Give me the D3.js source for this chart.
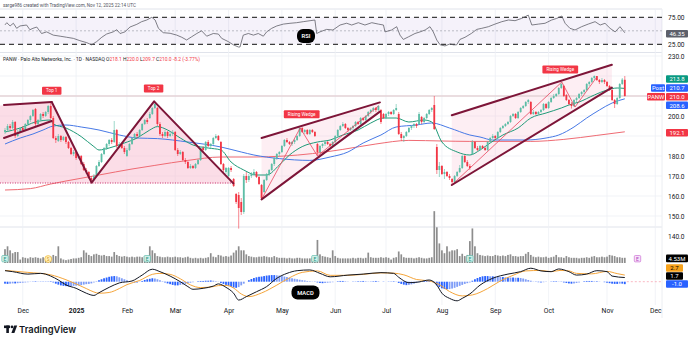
<!DOCTYPE html>
<html>
<head>
<meta charset="utf-8">
<script src="https://cdn.jsdelivr.net/npm/d3@7"></script>
<style>
  body { margin: 0; background: #fff; }
  svg { display: block; font-family: Roboto, "Noto Sans", sans-serif; }
</style>
</head>
<body>
<svg id="chart" width="695" height="341"></svg>
<script>
// ---- data ----
// daily candles [open, high, low, close], Nov 20 2024 .. Nov 12 2025
const candles = [
  [192,194,191,193],[193,196,192,195],[195,196,193,194],[194,198,193.5,197],[197,197.5,189,190],
  [190,193,189.5,192],[192,194.5,191.5,194],[194,195,192,193],[193,196.5,192.5,196],[196,198.5,195,198],
  [198,200.5,197,200],[200,203.5,199.5,203],[203.5,204,195,196],[196,198.5,195,198],[198,201.5,197.5,201],
  [201,202,199,200],[200,202.5,199.5,202],[202,205.5,201,205],[205,207,198.5,199],[199,200,188.5,189],
  [189,190,186.5,188],[187.5,191,187,190],[190,190.5,187,188],[188,190,187.5,189.5],[189.5,190,186,187],
  [187,187.5,183.5,184],[184,184.5,180.5,181],[181,183,180,182],[182,182.5,178,179],[179,181,178.5,180],
  [180,180.5,175.5,176],[176,177,172.5,173],[173,174,171,172],[172,172.5,168.5,169],[169,170,166.7,168],
  [168,171,167.5,170],[170,175.5,169.5,175],[175,178,174.5,177],[177,181.5,176.5,181],[181,184.5,180.5,184],
  [184,186.5,183,186],[186,188.5,185,188],[188,189,186,187],[187,197.5,186.5,193],[193,193.5,184,185],
  [185,187,184,186],[186,186.5,183.5,184],[184,185,181,182],[180,184,179.5,183],[183,186.5,182.5,186],
  [186,189.5,185.5,189],[189,191.5,188.5,191],[191,192,189,190],[190,193.5,189.5,193],[193,196.5,192.5,196],
  [196,198.5,195.5,198],[198,199,196,197],[199,202,198.5,201],[201,204.5,200.5,204],[204,207.3,203.5,206],
  [204,204.5,195,196],[196,197,190,191],[191,192,189,190],[190,193,189.5,192],[192,192.5,189,190],
  [190,192,189.5,191],[191,193,190,192],[192,192.5,182.5,183],[183,184,180,181],[181,183,180.5,182],
  [182,182.5,177.5,178],[178,179,176,177],[177,177.5,173.5,174],[174,176,173.5,175],[175,175.5,173.5,174],
  [174,176.5,173.5,176],[176,178.5,175.5,178],[178,184.5,177.5,184],[184,185,182,183],[183,187.5,182.5,187],
  [187,188,184.5,185],[185,186.5,184,186],[186,189.5,185.5,189],[189,191,188.5,190],[190,190.5,187.5,188],
  [187,187.5,175.5,176],[176,176.5,172,173],[172,174.5,171,174],[170,174.5,169.5,174],[174,175,172,173],
  [168.5,169,164.5,165],[161,161.5,156,157],[160.5,162,143.7,154],[157,159,150.5,152],[152,171,151,170],
  [170,172,166.5,168],[168,171,167,170],[170,172,169,171],[171,173.5,170,172],[172,172.5,169,169.5],
  [169.5,170,165.5,166],[165.5,166,158.3,159],[162,168.5,161.5,168],[168,171.5,167.5,171],[171,173.5,170,173],
  [173,176.5,172.5,176],[176,179.5,175,179],[179,181.5,178,181],[181,182.5,180,182],[182,185.5,181.5,185],
  [185,188.5,184.5,188],[188,189,186.5,187],[187,187.5,185.5,186],[186,187.5,185,187],[187,188.5,186,188],
  [188,190.5,187.5,190],[190,194.5,189.5,194],[194,194.5,191.5,192],[192,193.5,191,193],[193,193.5,190.5,191],
  [191,193.5,190.5,193],[193,193.5,191.5,192],[192,192.5,189.5,190],[186,186.5,180,182],[182,185.5,181.5,185],
  [185,186.5,184,186],[186,187.5,185,187],[187,187.5,185.5,186],[186,186.5,184.5,185],[185,187.5,184.5,187],
  [187,190.5,186.5,190],[190,193.5,189.5,193],[193,195.5,192.5,195],[195,197,194.5,196],[196,196.5,193.5,194],
  [194,194.5,192,193],[193,194.5,192.5,194],[194,195.5,193,195],[195,197.5,194.5,197],[197,197.5,195.5,196],
  [196,199.5,195.5,199],[199,199.5,197.5,198],[198,200.5,197.5,200],[200,202.5,199.5,202],[202,203.5,201,203],
  [203,204.5,202,204],[204,204.5,202,203],[203,205.5,202.5,205],[203,203.5,196,197],[201,201.5,198.5,199],
  [199,201.5,198.5,201],[201,202.5,200,202],[202,202.5,200.5,201],[201,203.5,200.5,203],[203,206,202.5,204],
  [201,202,190.5,191],[191,192,187.5,189],[189,190.5,187,190],[190,192.5,189.5,192],[192,194.5,191.5,194],
  [194,195.5,193,195],[195,196.5,194,196],[196,196.5,194,195],[196,202,195.5,201],[199.5,200,196,197],
  [197,199.5,196.5,199],[199,201.5,198.5,201],[201,203.5,200.5,203],[203,204.5,202,204],[205.5,210,193,193.5],
  [184.5,186,171,173],[173,177,169.5,175],[175,175.5,170.5,171],[171,173.5,168.5,172],[172,172.5,169.5,170],
  [170,171,168,169],[168.5,169,165.7,167],[167,170.5,166.5,170],[170,172.5,169.5,172],[172,175.5,171.5,174],
  [174,180.5,173.5,180],[180,180.5,176.5,177],[177,178,174.5,175],[175,176,173,174],[181,188,180.5,187],
  [187,187.5,183.5,184],[184,185,182.5,183],[183,185.5,182.5,185],[185,185.5,183.5,184],[184,184.5,182.5,183],
  [183,187.5,182.5,187],[187,189.5,186.5,189],[189,191,188.5,190],[190,190.5,188,189],[189,192.5,188.5,192],
  [192,194.5,191.5,194],[194,195.5,193.5,195],[195,196.5,194.5,196],[196,197.5,195.5,197],[197,200.5,196.5,200],
  [200,201.5,199.5,201],[201,201.5,198.5,199],[199,202.5,198.5,202],[202,204.5,201.5,204],[204,205.5,203.5,205],
  [205,207.5,204.5,207],[207,208.5,206,208],[207,207.5,200.5,201],[201,203,200.5,202],[202,202.5,200.5,201],
  [201,202.5,200.5,202],[202,203.5,201.5,203],[203,206.5,202.5,206],[206,206.5,203.5,204],[204,207.5,203.5,207],
  [207,209.5,206.5,209],[209,211,208.5,210],[210,211.5,209.5,211],[211,214.5,210.5,214],[214,217,213.5,216],
  [215,215.5,209.5,210],[210.5,211,207.5,208],[208,208.5,205.5,206],[206,207,203.7,205],[205,208.5,204.5,208],
  [208,209.5,207,209],[209,211.5,208.5,211],[211,212.5,210,212],[212,213.5,211,213],[213,216.5,212.5,216],
  [216,217.5,215,217],[217,219.5,216.5,219],[219,220.3,218,220],[220,220,217.5,218],[218,218.5,216,217],
  [217,219,216.5,218],[218,218.5,216,217],[217,217.5,214.5,215],[215,215.5,212.5,213],[213,213.5,207.5,208],
  [208,208.5,204,206],[206,209.5,205.5,209],[209,216.5,208.5,216],[216,219,215.5,218.2],[218.1,220,209.7,210]
];

// volume, millions of shares
const volumes = [
  12,14.5,11,8.5,9.5,9.5,3,
  5,4.5,4,5,4.5,5,4.5,4,5,4,5,5.5,7,6,14.5,4,3,2.5,3,3.5,4,
  4,4.5,5,11,9,7,6,7.5,8,7,6.5,7,6,6,5.5,9.5,7,6,5.5,6,
  5.5,5,5.5,5,5.5,5.5,5,6,6,14.5,11,8.5,6,5.5,5,5,5.5,5,5,
  5.5,5,5,4.5,5,5.5,4.5,4,4.5,4,4.5,4,4.5,5,8.5,5.5,5,7,6.5,5.5,6,
  5.5,6.5,9,11,14.5,11,11,7.5,6,5.5,5,5,5.5,5.5,6,5.5,5,5,6,5,4.5,
  4.5,4.5,4,4.5,4,4,4.5,4.5,4,4,4,4,4.5,5.5,20,7.5,6,5.5,5,4.5,11,
  6,4.5,4,4,4,4,4,4.5,4,4.5,4.5,4,4.5,9,5,4.5,4.5,4.5,5,4.5,
  5,4.5,3,4.5,5,10,7.5,5,4.5,4.5,4.5,4,4.5,5,4.5,4,4,4.5,5,45,31,17,
  11,8.5,14.5,10,11,11,12,6,8,6,7,19,30,14.5,
  8.5,7,6.5,6,6.5,6,6,7,6.5,6,6.5,6,7,7.5,6,6,5.5,6,6,8,9.5,7,5.5,5,5.5,5,5,5.5,
  4.5,5,5.5,7,5,5,4.5,6,5,4.5,4.5,4.5,4,4.5,4.5,5,4.5,5.5,6,5,5,5.5,5,
  5.5,7,6.5,6,5,5,4.5,4.53
];

// MACD histogram per bar
const macdHist = [
  -0.8,-0.9,-0.8,-0.7,-0.7,-0.6,-0.5,-0.4,-0.3,-0.2,
  -0.1,0.1,0.2,0.1,0.1,-0.1,-0.1,0.1,0.2,-0.3,
  -0.8,-1.2,-1.5,-1.7,-1.8,-1.9,-1.8,-1.7,-1.6,-1.5,
  -1.4,-1.2,-1.0,-0.9,-0.7,-0.3,0.2,0.6,1.0,1.4,
  1.7,2.0,2.2,2.3,2.2,1.8,1.4,1.0,0.6,0.2,
  -0.1,-0.3,-0.3,-0.1,0.3,0.7,1.0,1.2,1.4,1.3,
  1.0,0.6,0.2,-0.3,-0.7,-1.0,-1.3,-1.5,-1.5,-1.3,
  -1.1,-0.9,-0.6,-0.4,-0.2,0.0,0.2,0.3,0.3,0.4,
  0.4,0.5,0.4,0.2,-0.1,-0.5,-0.9,-1.3,-1.7,-2.1,
  -2.4,-2.5,-2.2,-1.5,-0.8,0.0,0.6,1.1,1.5,1.8,
  2.0,2.1,2.3,2.5,2.6,2.7,2.7,2.6,2.5,2.3,
  2.1,1.9,1.6,1.4,1.2,1.0,0.8,0.6,0.5,0.3,
  0.2,0.1,-0.1,-0.3,-0.5,-0.6,-0.5,-0.4,-0.3,-0.2,
  0.0,0.2,0.3,0.3,0.2,0.1,0.0,-0.1,0.1,0.2,
  0.2,0.3,0.2,0.1,0.1,0.2,0.3,0.2,0.0,-0.1,
  0.0,0.1,0.1,0.2,0.1,-0.5,-0.9,-1.2,-1.4,-1.3,
  -1.1,-0.8,-0.5,-0.2,0.1,0.3,0.4,0.4,0.3,-0.4,
  -1.5,-2.2,-2.7,-3.0,-3.1,-3.0,-2.8,-2.5,-2.1,-1.7,
  -1.3,-0.9,-0.6,-0.3,0.4,1.0,1.5,1.9,2.2,2.3,
  2.3,2.2,2.2,2.1,2.0,1.9,1.9,1.8,1.8,1.7,
  1.7,1.6,1.6,1.5,1.3,1.0,0.7,0.4,0.1,-0.1,
  -0.2,-0.3,-0.2,-0.1,0.0,0.1,0.2,0.2,0.1,-0.1,
  -0.3,-0.5,-0.7,-0.8,-0.7,-0.5,-0.3,0.0,0.2,0.3,
  0.3,0.3,0.2,0.2,0.1,0.0,-0.2,-0.4,-0.6,-0.8,
  -0.9,-0.9,-0.8,-0.8,-1.0
];

// moving averages, [bar, value]
const ma20 = [[0,192],[6,194],[12,197],[18,198],[19,196],[24,194],[30,189.7],[35,184.7],[37,183],[41,184],
  [47,186.5],[52,189],[57,193],[60,194.7],[64,193],[69,189],[74,185.5],[80,184],[85,183],[89,177],[94,173],
  [99,170.5],[103,170.5],[108,175.5],[112,180.5],[117,184.7],[123,187],[128,188],[133,190.5],[139,193],
  [144,196.5],[149,199],[154,199],[159,197],[165,198],[168,197],[172,187],[178,182],[183,180.5],[187,183],
  [191,186.5],[196,190.5],[202,194],[207,199],[213,201.5],[219,204],[222,205.5],[226,207],[232,210.5],
  [237,213],[241,214],[244,213.8]];
const ma50 = [[0,186],[6,189],[11,191],[15,193],[19,195],[24,195.5],[30,194.5],[37,193],[45,190.5],[52,189],
  [60,188.7],[72,187],[85,184.5],[93,182],[98,180.5],[108,178.7],[120,177.8],[128,179.5],[135,182],
  [141,186.5],[148,190.5],[154,194.5],[162,195.5],[168,196.5],[175,194],[183,190.5],[187,189.5],[192,188],
  [205,188],[213,189],[218,190.5],[224,194.5],[229,199],[234,203],[239,206.5],[244,208.6]];
const ma200 = [[0,163],[10,163.7],[18,166],[24,167.5],[37,170.5],[50,173.5],[59,175.3],[72,177.8],[85,179.5],
  [98,179.5],[121,181.2],[133,183.3],[146,186],[159,187.8],[172,187.5],[183,187.3],[207,187.3],[220,188.3],
  [233,190.3],[244,192.1]];

// RSI(14), [bar, value]
const rsi = [[0,61],[0.7,65],[2,59],[3.3,64],[4.6,54.6],[5.9,59],[8.5,60.7],[9.8,52],[11,54.6],[12.5,57],
  [14.4,45],[16.4,48],[19,42],[21.7,40],[24.3,38],[26.9,36],[29.5,31.7],[32.2,28],[34.1,24],[36.1,30],
  [38.1,38],[40,44],[42.6,48],[44,52],[45.3,45],[47.2,48],[49.2,57],[51.9,62],[53.8,66.9],[55.8,70],
  [57.8,75],[59.1,70],[60.4,54.6],[62.3,46.5],[65,45.4],[67.6,42],[69.6,38],[71.5,33],[73.5,39],[75.5,45],
  [77.4,50],[79.4,40],[82,45],[84,44],[85.3,36],[87.9,30],[89.9,24],[91.9,20],[92.5,20],[93.8,42],
  [95.8,45],[97.8,42],[99.7,45],[101.7,40],[103,48],[105,54.6],[107,59],[109.6,62.4],[112.2,63.9],
  [114.8,65],[117.4,66.9],[120.1,68.7],[122,70],[122.7,45],[124,48],[126.6,52.6],[129.1,51.5],[131.9,60.7],
  [134.5,64],[136.5,60.7],[139.1,65],[141.7,60.7],[144.4,65],[147,62.4],[149,60.7],[149.6,48],[152.2,51.5],
  [154.2,57.6],[155.5,42],[156.8,34],[158.8,38.7],[161.4,45],[163.4,48],[165.4,51.5],[167.3,57.6],
  [168.6,48],[170,32.8],[171.3,24],[173.2,22],[175.2,25.7],[176.5,24],[177.8,24],[179.1,34],[181.1,38],
  [183.7,45.4],[185.7,52.6],[187.7,54.6],[190.3,57.6],[192.9,62.4],[195.6,66.9],[198.2,70],[200.8,68.7],
  [203.4,73],[206,79],[207.4,60.7],[210,62.4],[212.6,63.9],[215.2,70],[217.2,73],[219.2,77.4],[220.5,63.9],
  [222.4,54.6],[224.4,51.5],[227,57.6],[229.6,62.4],[232.3,66.9],[234.3,60.7],[236.2,63.9],[238.2,54.6],
  [240.2,48],[242.1,57.6],[244,46.35]];

// MACD and signal lines, [bar, value]
const macdLine = [[0,4.5],[3,4.1],[9,3.1],[14,3.4],[18,2.3],[21,0.7],[24,-1.3],[28,-2.7],[32,-4.7],[35,-5.6],
  [37,-4.5],[41,-2.3],[45,-0.5],[50,0.3],[54,2.7],[58,5.1],[61,4.1],[65,2.3],[69,0],[72,-2],[74,-3.1],
  [78,-2.7],[82,-1.8],[84,-0.9],[87,-2.3],[90,-4.7],[92,-7.5],[95,-6.1],[99,-4.1],[103,-2],[107,1.4],
  [111,3.4],[115,4.5],[120,4.8],[124,3.4],[128,2],[135,2.7],[141,3.1],[148,3.7],[153,3.4],[155,1.8],
  [159,-0.4],[163,-0.1],[167,0.7],[170,-1.4],[172,-4.7],[175,-6.8],[178,-7.8],[180,-6.8],[183,-5],
  [187,-1.4],[192,1.4],[198,3.1],[203,4.1],[207,5.5],[211,4.4],[215,4.1],[218,5.2],[222,4.1],[225,2.7],
  [229,3.1],[233,4.5],[237,4.1],[239,2.3],[244,1.7]];
const signalLine = [[0,4.6],[9,3.8],[18,2.8],[24,0.8],[28,-0.9],[32,-2.8],[35,-4.2],[37,-4.7],[41,-4.4],
  [45,-2.8],[48,-1.2],[53,0.5],[58,3.0],[61,3.4],[65,3.0],[69,1.2],[73,-1.3],[77,-2.4],[82,-2.0],[84,-1.6],
  [87,-1.5],[90,-2.6],[93,-5.0],[96,-6.1],[101,-4.6],[107,-1.4],[112,1.6],[117,3.8],[123,4.4],[128,2.6],
  [135,2.6],[141,3.0],[148,3.6],[153,3.5],[157,2.8],[162,0.9],[167,0.3],[171,-1.2],[175,-4.0],[180,-5.8],
  [184,-5.4],[190,-2.8],[195,0.3],[200,2.6],[205,4.4],[211,4.6],[215,4.1],[218.5,4.6],[222,4.4],[225,3.4],
  [231,3.2],[237,4.2],[241,3.3],[244,2.7]];

// chart drawings, [bar, price]
const channelUpper = [[-0.4,205.5],[18.4,207]];
const channelLower = [[-0.4,189],[18.4,197.5]];
const doubleTop = [[18.4,207],[34.1,166.7],[58.7,207.3],[89.9,166.3]];
const neckline = [[-2,166.5],[89.9,166.5]];
const wedge1Upper = [[101,189],[147.6,206.8]];
const wedge1Lower = [[101,158.3],[147.6,202.2]];
const wedge1Swings = [[101,158.3],[116.2,194],[123,180],[147,205]];
const wedge2Upper = [[175.9,200.4],[238.9,225.6]];
const wedge2Lower = [[175.9,165.5],[238.9,214.2]];
const wedge2Swings = [[175.9,165.5],[219.2,217],[224.4,204.5],[233,219.5]];
const noteLabels = [
  {text: 'Top 1', at: [18.4, 212.6]},
  {text: 'Top 2', at: [58.5, 213.8]},
  {text: 'Rising Wedge', at: [116.8, 200.9]},
  {text: 'Rising Wedge', at: [218.6, 223.2]}
];
const earningsBars = [0, 56, 122, 183];
const nextEarningsBar = 249;
const splitBar = 17;

const priceTicks = [230, 200, 180, 170, 160, 150, 140];
const gridPrices = [150, 160, 170, 180, 190, 200, 210, 220, 230];
const rsiTicks = [75, 25];
const holidays = ['2024-11-28','2024-12-25','2025-01-01','2025-01-09','2025-01-20','2025-02-17',
  '2025-04-18','2025-05-26','2025-06-19','2025-07-04','2025-09-01','2025-11-27'];

// ---- layout ----
const plotR = 662;
const svg = d3.select('#chart');

// trading-day calendar for the time axis
const fmtDay = d3.timeFormat('%Y-%m-%d');
const days = [];
for (let d = new Date(2024, 10, 20); days.length < 260; d = d3.timeDay.offset(d, 1)) {
  const wd = d.getDay();
  if (wd === 0 || wd === 6 || holidays.includes(fmtDay(d))) continue;
  days.push(new Date(d));
}
const monthStarts = [];
days.forEach((d, i) => {
  if (i > 0 && d.getMonth() !== days[i - 1].getMonth()) monthStarts.push(i);
});

const x = d3.scaleLinear().domain([0, 244]).range([5, 624.8]);
const yP = d3.scaleLinear().domain([140, 230]).range([236, 56]);
const yR = d3.scaleLinear().domain([25, 75]).range([44.3, 17.3]);
const yV = d3.scaleLinear().domain([0, 46]).range([263, 210]);
const yM = d3.scaleLinear().domain([-8, 6]).range([301.3, 267]);

const up = '#5dbda6', down = '#f23645';
const grid = '#eef0f5';

// header texts
svg.append('text').attr('x', 3).attr('y', 7).attr('font-size', 4.6).attr('fill', '#50535e')
  .text('sarge986 created with TradingView.com, Nov 12, 2025 22:14 UTC');

// pane separators
[9, 52.5, 227].forEach(yy => svg.append('line').attr('x1', 0).attr('x2', plotR)
  .attr('y1', yy).attr('y2', yy).attr('stroke', '#e0e3eb').attr('stroke-width', 1));
svg.append('line').attr('x1', plotR).attr('x2', plotR).attr('y1', 9).attr('y2', 318)
  .attr('stroke', '#eceef2');

// vertical month grid
svg.append('g').selectAll('line').data(monthStarts).join('line')
  .attr('x1', d => x(d)).attr('x2', d => x(d)).attr('y1', 9).attr('y2', 305)
  .attr('stroke', grid).attr('stroke-width', 0.8);
// horizontal price grid
svg.append('g').selectAll('line').data(gridPrices).join('line')
  .attr('x1', 0).attr('x2', plotR).attr('y1', d => yP(d)).attr('y2', d => yP(d))
  .attr('stroke', grid).attr('stroke-width', 0.8);

// ---- RSI pane ----
svg.append('rect').attr('x', 0).attr('width', plotR).attr('y', yR(75)).attr('height', yR(25) - yR(75))
  .attr('fill', '#7e57c2').attr('opacity', 0.08);
rsiTicks.forEach(v => svg.append('line').attr('x1', 0).attr('x2', plotR)
  .attr('y1', yR(v)).attr('y2', yR(v)).attr('stroke', '#3f3f3f').attr('stroke-width', 1.2)
  .attr('stroke-dasharray', '5,4'));
svg.append('line').attr('x1', 0).attr('x2', plotR).attr('y1', yR(50)).attr('y2', yR(50))
  .attr('stroke', '#9598a1').attr('stroke-width', 0.6).attr('stroke-dasharray', '2,2');
svg.append('path').datum(rsi)
  .attr('d', d3.line().x(d => x(d[0])).y(d => yR(d[1])))
  .attr('fill', 'none').attr('stroke', '#5f6068').attr('stroke-width', 0.8);

// ---- price pane ----
const pLine = d3.line().x(d => x(d[0])).y(d => yP(d[1]));

// pattern fills
const dtPoly = [[-2, 205.3], ...doubleTop, [-2, 166.5]];
svg.append('path').attr('d', pLine(dtPoly) + 'Z').attr('fill', '#f8bbd0').attr('opacity', 0.5);
svg.append('path').attr('d', pLine([...wedge1Upper, ...wedge1Lower.slice().reverse()]) + 'Z')
  .attr('fill', '#f8bbd0').attr('opacity', 0.25);
svg.append('path').attr('d', pLine([...wedge2Upper, ...wedge2Lower.slice().reverse()]) + 'Z')
  .attr('fill', '#f8bbd0').attr('opacity', 0.25);

// last-close price line
svg.append('line').attr('x1', 0).attr('x2', plotR).attr('y1', yP(210)).attr('y2', yP(210))
  .attr('stroke', '#e6d3d7').attr('stroke-width', 1.4);

// moving averages
const maCurve = d3.line().x(d => x(d[0])).y(d => yP(d[1])).curve(d3.curveMonotoneX);
[[ma200, '#ef6b73'], [ma50, '#4779e6'], [ma20, '#1f9a78']].forEach(([data, col]) => {
  svg.append('path').datum(data).attr('d', maCurve).attr('fill', 'none')
    .attr('stroke', col).attr('stroke-width', 1);
});

// candles
const cg = svg.append('g');
cg.selectAll('line').data(candles).join('line')
  .attr('x1', (d, i) => x(i)).attr('x2', (d, i) => x(i))
  .attr('y1', d => yP(d[1])).attr('y2', d => yP(d[2]))
  .attr('stroke', d => d[3] >= d[0] ? up : down).attr('stroke-width', 0.6);
cg.selectAll('rect').data(candles).join('rect')
  .attr('x', (d, i) => x(i) - 0.9).attr('width', 1.8)
  .attr('y', d => yP(Math.max(d[0], d[3])))
  .attr('height', d => Math.max(0.6, Math.abs(yP(d[0]) - yP(d[3]))))
  .attr('fill', d => d[3] >= d[0] ? up : down);

// drawings
svg.append('path').attr('d', pLine(neckline)).attr('stroke', '#c2185b')
  .attr('stroke-width', 0.9).attr('stroke-dasharray', '1,1.5').attr('fill', 'none');
[wedge1Swings, wedge2Swings].forEach(s => svg.append('path').attr('d', pLine(s))
  .attr('fill', 'none').attr('stroke', '#e8455e').attr('stroke-width', 0.8));
[channelUpper, channelLower, doubleTop, wedge1Upper, wedge1Lower, wedge2Upper, wedge2Lower]
  .forEach(s => svg.append('path').attr('d', pLine(s)).attr('fill', 'none')
    .attr('stroke', '#7d1538').attr('stroke-width', 2).attr('stroke-linecap', 'round')
    .attr('stroke-linejoin', 'round'));

noteLabels.forEach(n => {
  const cx = x(n.at[0]), cy = yP(n.at[1]);
  const t = svg.append('text').attr('x', cx).attr('y', cy + 1.6).attr('text-anchor', 'middle')
    .attr('font-size', 4.6).attr('fill', '#fff').text(n.text);
  const w = t.node().getComputedTextLength() + 8;
  svg.insert('rect', () => t.node()).attr('x', cx - w / 2).attr('y', cy - 4).attr('width', w)
    .attr('height', 8).attr('rx', 1).attr('fill', '#f23645');
});

// title line
const title = svg.append('text').attr('x', 3).attr('y', 60.5).attr('font-size', 4.9).attr('fill', '#131722');
title.append('tspan').text('PANW · Palo Alto Networks, Inc. · 1D · NASDAQ  ');
[['O', '218.1'], ['H', '220.0'], ['L', '209.7'], ['C', '210.0']].forEach(([k, v]) => {
  title.append('tspan').text(k);
  title.append('tspan').attr('fill', '#f23645').text(v + ' ');
});
title.append('tspan').attr('fill', '#f23645').text('-8.2 (-3.77%)');

// ---- volume ----
svg.append('g').selectAll('rect').data(volumes.slice(0, candles.length)).join('rect')
  .attr('x', (d, i) => x(i) - 0.85).attr('width', 1.7)
  .attr('y', d => yV(d)).attr('height', d => yV(0) - yV(d))
  .attr('fill', '#8d8d8d');

// event markers
earningsBars.forEach(b => {
  svg.append('rect').attr('x', x(b) - 3.2).attr('y', 255.5).attr('width', 6.4).attr('height', 6.4)
    .attr('rx', 1).attr('fill', '#d3efe9').attr('stroke', '#4fb6a2').attr('stroke-width', 0.6);
  svg.append('text').attr('x', x(b)).attr('y', 260.6).attr('text-anchor', 'middle')
    .attr('font-size', 5).attr('fill', '#22937c').text('E');
});
svg.append('rect').attr('x', x(nextEarningsBar) - 3.2).attr('y', 255.5).attr('width', 6.4)
  .attr('height', 6.4).attr('rx', 1).attr('fill', '#f6e3f8').attr('stroke', '#c45ad0').attr('stroke-width', 0.6);
svg.append('text').attr('x', x(nextEarningsBar)).attr('y', 260.6).attr('text-anchor', 'middle')
  .attr('font-size', 5).attr('fill', '#b040c0').text('E');
svg.append('circle').attr('cx', x(splitBar)).attr('cy', 259).attr('r', 3.4)
  .attr('fill', '#fff3c4').attr('stroke', '#f0b429').attr('stroke-width', 0.7);
svg.append('text').attr('x', x(splitBar)).attr('y', 260.7).attr('text-anchor', 'middle')
  .attr('font-size', 4.6).attr('fill', '#d4940a').text('S');

// ---- MACD ----
svg.append('line').attr('x1', x(244) + 2).attr('x2', plotR).attr('y1', yM(0)).attr('y2', yM(0))
  .attr('stroke', '#f7a5b3').attr('stroke-width', 0.8).attr('stroke-dasharray', '2,2');
svg.append('g').selectAll('rect').data(macdHist).join('rect')
  .attr('x', (d, i) => x(i) - 0.9).attr('width', 1.8)
  .attr('y', d => yM(Math.max(0, d))).attr('height', d => Math.abs(yM(d) - yM(0)))
  .attr('fill', (d, i) => {
    const prev = i > 0 ? macdHist[i - 1] : d;
    return Math.abs(d) >= Math.abs(prev) ? '#2962ff' : '#7f9df7';
  });
const mLine = d3.line().x(d => x(d[0])).y(d => yM(d[1])).curve(d3.curveMonotoneX);
svg.append('path').datum(signalLine).attr('d', mLine).attr('fill', 'none')
  .attr('stroke', '#f5a53a').attr('stroke-width', 1);
svg.append('path').datum(macdLine).attr('d', mLine).attr('fill', 'none')
  .attr('stroke', '#131722').attr('stroke-width', 1);

// pane name bubbles
[['RSI', 306, 36, 18], ['MACD', 305.5, 292.5, 28]].forEach(([t, cx, cy, w]) => {
  svg.append('rect').attr('x', cx - w / 2).attr('y', cy - 7).attr('width', w).attr('height', 14)
    .attr('rx', 6).attr('fill', '#000');
  svg.append('text').attr('x', cx).attr('y', cy + 2).attr('text-anchor', 'middle')
    .attr('font-size', 5.8).attr('font-weight', 600).attr('fill', '#fff').text(t);
});

// ---- axes ----
const axisStyle = g => {
  g.select('.domain').remove();
  g.selectAll('text').attr('fill', '#131722').attr('font-family', 'Roboto, sans-serif');
};
svg.append('g').attr('transform', 'translate(668,0)')
  .call(d3.axisRight(yP).tickValues(priceTicks).tickSize(0).tickPadding(0).tickFormat(d3.format('.1f')))
  .call(axisStyle).call(g => g.selectAll('text').attr('font-size', 6.6));
svg.append('g').attr('transform', 'translate(668,0)')
  .call(d3.axisRight(yR).tickValues(rsiTicks).tickSize(0).tickPadding(0).tickFormat(d3.format('.2f')))
  .call(axisStyle).call(g => g.selectAll('text').attr('font-size', 6.6));

const fmtMonth = d3.timeFormat('%b');
svg.append('g').attr('transform', 'translate(0,305.5)')
  .call(d3.axisBottom(x).tickValues(monthStarts).tickSize(0).tickPadding(3)
    .tickFormat(i => days[i].getMonth() === 0 ? String(days[i].getFullYear()) : fmtMonth(days[i])))
  .call(axisStyle)
  .call(g => g.selectAll('text').attr('font-size', 6.8)
    .attr('font-weight', i => days[i].getMonth() === 0 ? 700 : 400));

// right-scale value tags
function tag(cy, label, bg, fg, x0 = 666, w = 22) {
  svg.append('rect').attr('x', x0).attr('y', cy - 3.8).attr('width', w).attr('height', 7.6)
    .attr('rx', 1).attr('fill', bg);
  svg.append('text').attr('x', x0 + w / 2).attr('y', cy + 2.2).attr('text-anchor', 'middle')
    .attr('font-size', 6).attr('fill', fg).text(label);
}
tag(33.7, '46.35', '#5d606b', '#fff');
tag(79, '213.8', '#089981', '#fff');
tag(88, '210.7', '#2962ff', '#fff');
tag(88, 'Post', '#2962ff', '#fff', 651, 14);
tag(96.7, '210.0', '#f23645', '#fff');
tag(96.7, 'PANW', '#f23645', '#fff', 647, 18);
tag(105.3, '208.6', '#2962ff', '#fff');
tag(132.7, '192.1', '#f23645', '#fff');
tag(258.4, '4.53M', '#000', '#fff');
tag(268, '2.7', '#f7a21b', '#000', 666, 17);
tag(276, '1.7', '#000', '#fff', 666, 17);
tag(284, '-1.0', '#2962ff', '#fff');

// ---- TradingView logo ----
const logo = svg.append('g').attr('fill', '#131722');
logo.append('rect').attr('x', 4).attr('y', 325.5).attr('width', 6).attr('height', 2.6);
logo.append('rect').attr('x', 6.3).attr('y', 325.5).attr('width', 2.6).attr('height', 7.5);
logo.append('circle').attr('cx', 12).attr('cy', 326.9).attr('r', 1.4);
logo.append('path').attr('d', 'M14.2,325.5 L17.2,325.5 L14.4,333 L11.4,333 Z');
svg.append('text').attr('x', 19).attr('y', 332.8).attr('font-size', 9.4).attr('font-weight', 600)
  .attr('fill', '#131722').attr('font-family', 'Inter, Roboto, sans-serif').text('TradingView');
</script>
</body>
</html>
